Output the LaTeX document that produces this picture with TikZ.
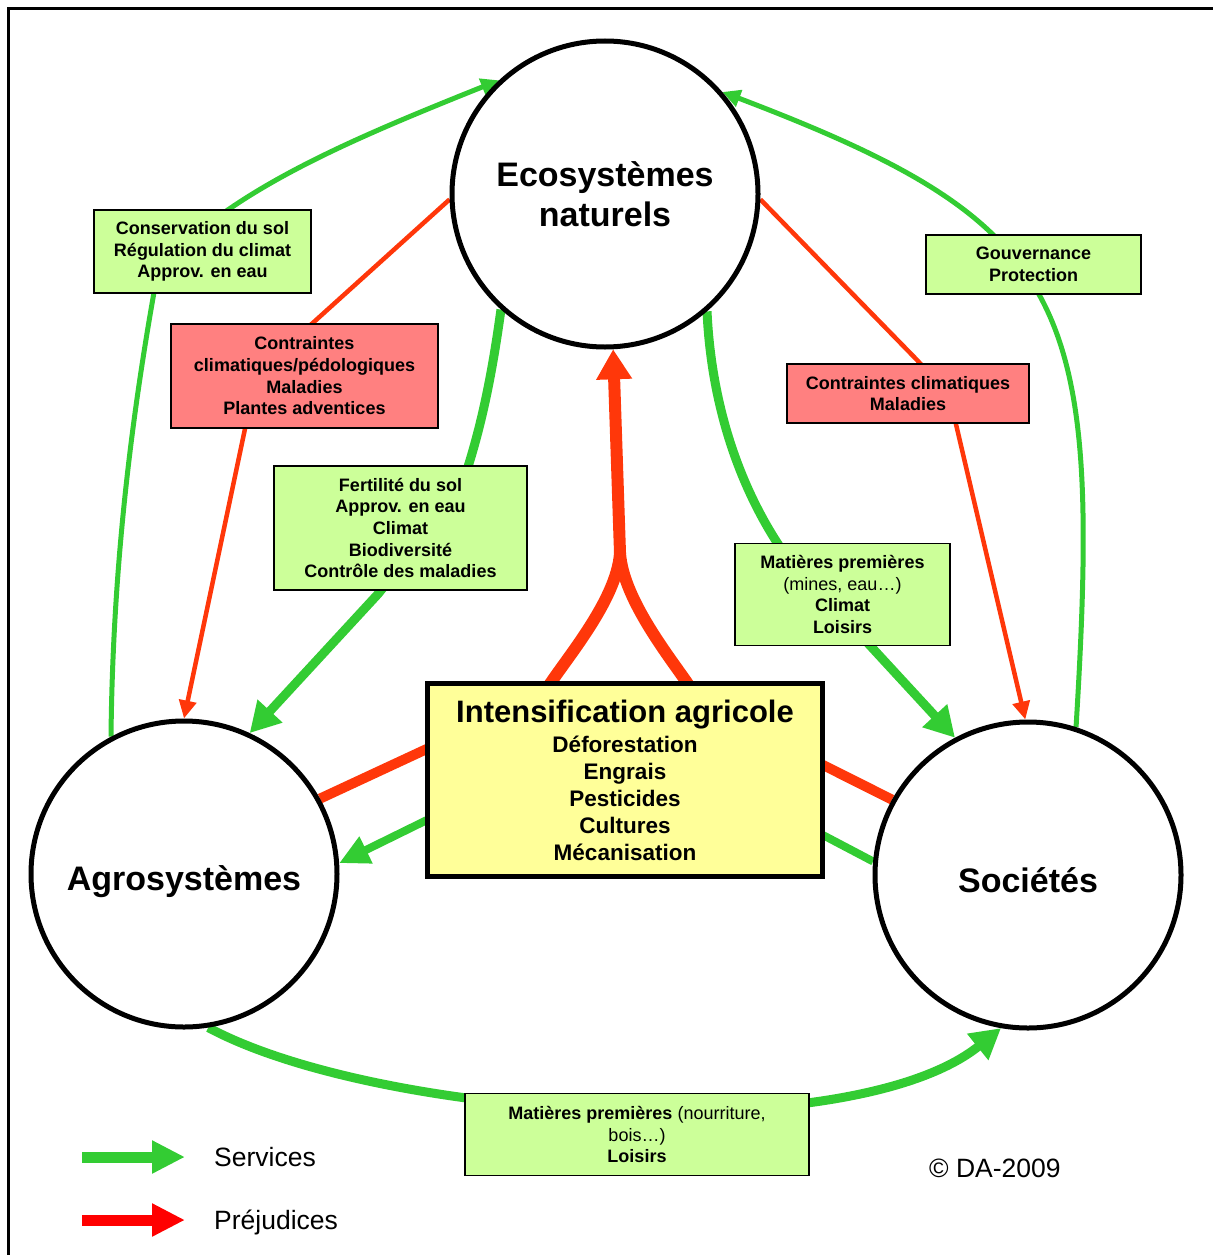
\documentclass[tikz,border=0pt]{standalone}
\usepackage{fontspec}
\setmainfont{Liberation Sans}
\usetikzlibrary{arrows.meta,calc}
\pgfdeclarelayer{bg}
\pgfsetlayers{bg,main}
\definecolor{cgreen}{RGB}{51,204,51}
\definecolor{cred}{RGB}{255,55,10}
\definecolor{lred}{RGB}{255,0,0}
\definecolor{boxgreen}{RGB}{204,255,153}
\definecolor{boxred}{RGB}{255,128,128}
\definecolor{boxyellow}{RGB}{255,255,153}
\begin{document}
\begin{tikzpicture}[x=1pt,y=-1pt,
  circ/.style={circle,draw,line width=5pt,minimum size=306pt,inner sep=0pt,fill=white,align=center,font=\bfseries\fontsize{34}{40}\selectfont},
  gbox/.style={rectangle,draw,line width=1.6pt,fill=boxgreen,align=center,inner sep=0pt,font=\bfseries\fontsize{18}{21.7}\selectfont},
  rbox/.style={gbox,fill=boxred},
  intbox/.style={rectangle,draw,line width=5pt,fill=boxyellow,align=center,inner sep=0pt,minimum width=395pt,minimum height=193pt,font=\bfseries\fontsize{22.5}{27}\selectfont},
  gout/.style={draw=cgreen,line width=5pt,-{Triangle[length=18pt,width=17pt]}},
  rthin/.style={draw=cred,line width=4.5pt,-{Triangle[length=18pt,width=17pt]}},
  gthick/.style={draw=cgreen,line width=9pt,-{Triangle[length=30pt,width=32pt]}},
  rbar/.style={draw=cred,line width=10pt},
  gbar/.style={draw=cgreen,line width=8pt},
  rbig/.style={draw=cred,line width=12pt},
  legtext/.style={anchor=base west,inner sep=0pt,font=\fontsize{26.5}{30}\selectfont}
]
\useasboundingbox (0,0) rectangle (1213,1255);
\draw[line width=3pt] (8,1255) -- (8,9) -- (1213,9);

% main nodes
\node[circ] (eco) at (605,194) {Ecosystèmes\\naturels};
\node[circ] (agro) at (184,874) {\rule{0pt}{40pt}Agrosystèmes};
\node[circ] (soc) at (1028,875) {\rule{0pt}{36pt}Sociétés};
\node[intbox] (int) at (625,780) {{\fontsize{31}{34}\selectfont Intensification agricole}\\[3pt]Déforestation\\Engrais\\Pesticides\\Cultures\\Mécanisation};

% label boxes
\node[gbox,minimum width=217pt,minimum height=83pt] (b1) at (202.5,251.5) {Conservation du sol\\Régulation du climat\\Approv. en eau};
\node[rbox,minimum width=267pt,minimum height=104pt] (b2) at (304.5,376) {Contraintes\\climatiques/pédologiques\\Maladies\\Plantes adventices};
\node[gbox,minimum width=253pt,minimum height=124pt] (b3) at (400.5,528) {Fertilité du sol\\Approv. en eau\\Climat\\Biodiversité\\Contrôle des maladies};
\node[gbox,minimum width=215pt,minimum height=59pt] (b4) at (1033.5,264.5) {Gouvernance\\Protection};
\node[rbox,minimum width=242pt,minimum height=59pt] (b5) at (908,393.5) {Contraintes climatiques\\Maladies};
\node[gbox,minimum width=215pt,minimum height=102pt] (b6) at (842.5,594.5) {Matières premières\\{\mdseries(mines, eau…)}\\Climat\\Loisirs};
\node[gbox,minimum width=344pt,minimum height=82pt,font=\mdseries\fontsize{18}{21.7}\selectfont] (b7) at (637,1134.5) {\textbf{Matières premières} (nourriture,\\bois…)\\\textbf{Loisirs}};

% legend
\coordinate (sg1) at (82,1157);
\coordinate (sg2) at (185,1157);
\coordinate (sr1) at (82,1220);
\coordinate (sr2) at (185,1220);
\draw[draw=cgreen,line width=11pt,-{Triangle[length=33pt,width=31pt]}] (sg1) -- (sg2);
\draw[draw=lred,line width=11pt,-{Triangle[length=33pt,width=31pt]}] (sr1) -- (sr2);
\node[legtext] (lserv) at (214,1166.5) {Services};
\node[legtext] (lprej) at (214,1229.5) {Préjudices};
\node[legtext] (copy) at (929,1177.5) {© DA-2009};

\begin{pgfonlayer}{bg}
% outer green
\draw[gout] (agro.118) .. controls (113,540) and (138,380) .. (158,270) .. controls (230,190) and (350,140) .. (eco.133);
\draw[gout] (soc.72) .. controls (1102,300) and (1072,225) .. (eco.41);
% thin red
\draw[rthin] (eco.182) -- (305,330) .. controls (275,360) and (252,395) .. (246,424) -- (agro.90);
\draw[rthin] (eco.358) -- (917,360) .. controls (940,385) and (952,405) .. (955,420) -- (soc.91);
% thick green
\draw[gthick] (eco.228) .. controls (490,390) and (478,435) .. (467,470) .. controls (445,520) and (405,560) .. (378,594) -- (agro.65);
\draw[gthick] (eco.311) .. controls (712,420) and (748,500) .. (782,550) -- (soc.118);
% central red
\coordinate (merge) at (620,553);
\draw[rbig,-{Triangle[length=30pt,width=34pt]}] ($(int.north)+(-77,6)$) .. controls (565,660) and (617,600) .. (merge) -- (eco.-87);
\draw[rbig] ($(int.north)+(65,6)$) .. controls (672,660) and (623,600) .. (merge);
% short links
\draw[rbar] ($(int.west)+(6,-33)$) -- (agro.29);
\draw[gbar,-{Triangle[length=30pt,width=28pt]}] ($(int.west)+(6,38)$) -- (agro.4);
\draw[rbar] ($(int.east)+(-6,-17)$) -- (soc.151);
\draw[gbar] ($(int.east)+(-6,53)$) -- (soc.175);
% bottom green
\draw[gthick] (agro.-81) .. controls (380,1120) and (850,1150) .. (soc.260);
\end{pgfonlayer}
\end{tikzpicture}
\end{document}
